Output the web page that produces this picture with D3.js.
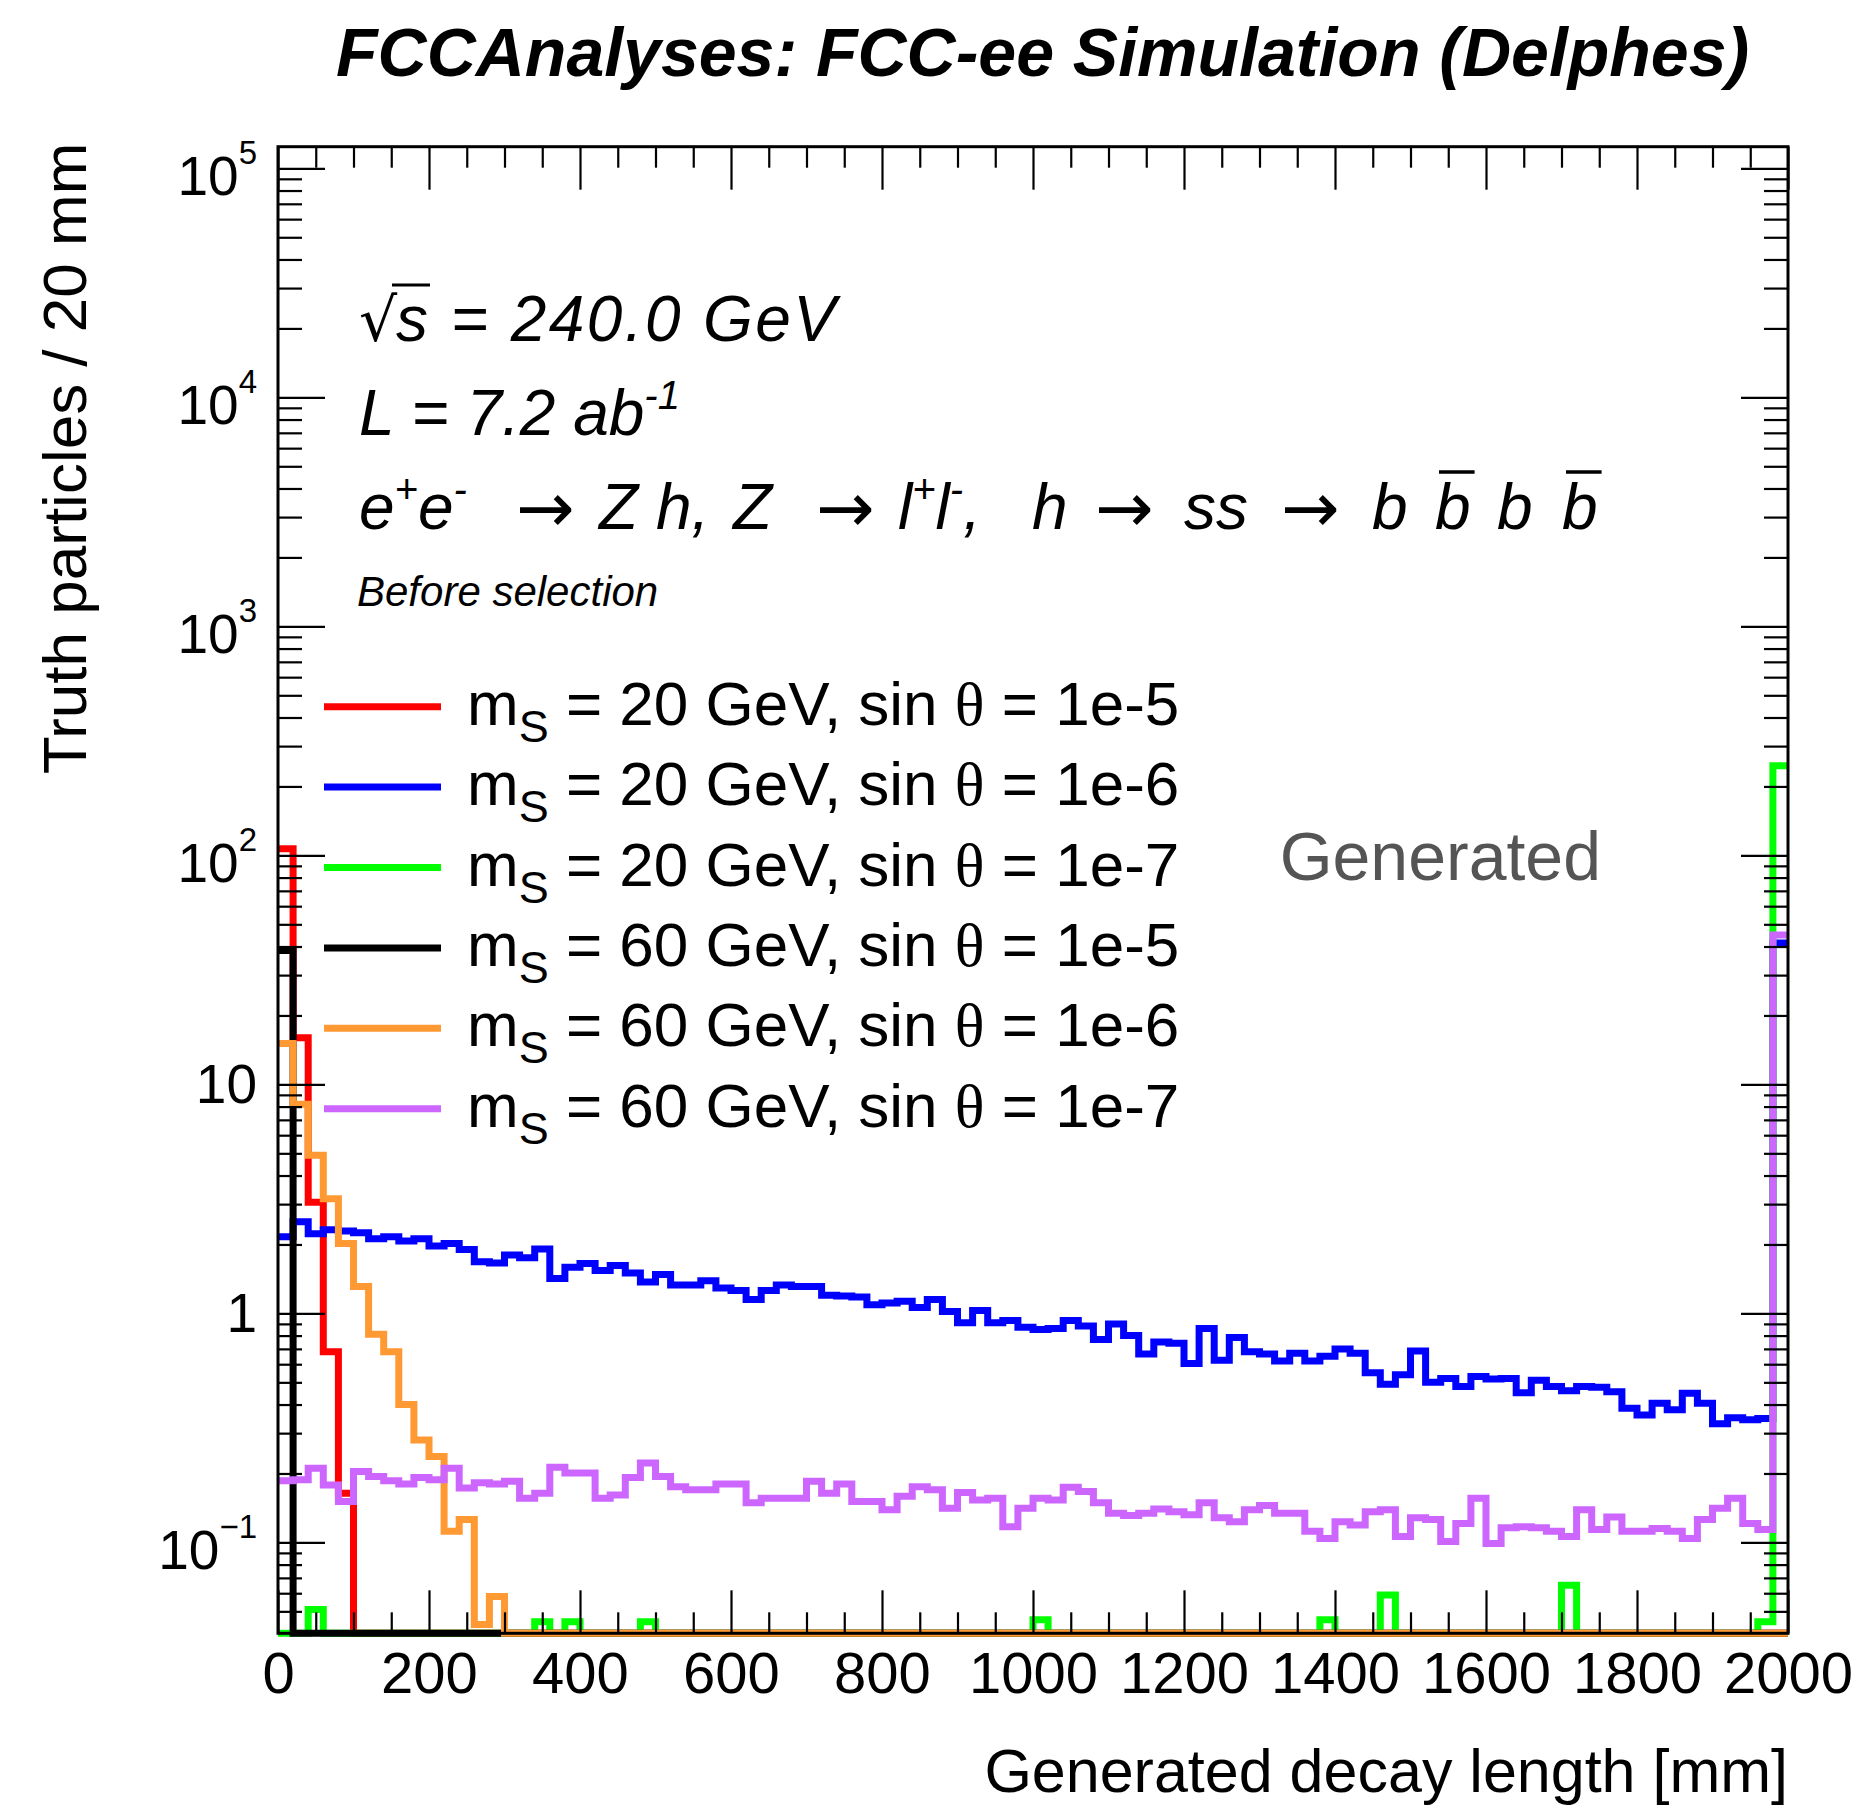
<!DOCTYPE html>
<html>
<head>
<meta charset="utf-8">
<script src="https://cdn.jsdelivr.net/npm/d3@7"></script>
<style>
  body { margin: 0; background: #fff; }
  svg text { font-family: "Liberation Sans", Arial, Helvetica, sans-serif; }
</style>
</head>
<body>
<div id="chart"></div>
<script>
// 100 bins of 20 mm, 0 - 2000 mm (last bin holds the overflow)
const binEdges = d3.range(0, 2000, 20);

// m_S = 20 GeV, sin theta = 1e-5
const red = [
  107, 16.0, 3.06, 0.68, 0.164, 0, 0, 0, 0, 0,
  0, 0, 0, 0, 0, 0, 0, 0, 0, 0,
  0, 0, 0, 0, 0, 0, 0, 0, 0, 0,
  0, 0, 0, 0, 0, 0, 0, 0, 0, 0,
  0, 0, 0, 0, 0, 0, 0, 0, 0, 0,
  0, 0, 0, 0, 0, 0, 0, 0, 0, 0,
  0, 0, 0, 0, 0, 0, 0, 0, 0, 0,
  0, 0, 0, 0, 0, 0, 0, 0, 0, 0,
  0, 0, 0, 0, 0, 0, 0, 0, 0, 0,
  0, 0, 0, 0, 0, 0, 0, 0, 0, 0
];
// m_S = 20 GeV, sin theta = 1e-6
const blue = [
  2.16, 2.51, 2.23, 2.32, 2.29, 2.25, 2.12, 2.16, 2.07, 2.12,
  1.97, 2.02, 1.90, 1.68, 1.66, 1.80, 1.75, 1.91, 1.42, 1.59,
  1.65, 1.54, 1.62, 1.50, 1.37, 1.48, 1.33, 1.33, 1.39, 1.29,
  1.26, 1.15, 1.26, 1.33, 1.31, 1.31, 1.20, 1.19, 1.18, 1.09,
  1.11, 1.13, 1.06, 1.15, 1.02, 0.91, 1.03, 0.91, 0.93, 0.87,
  0.85, 0.86, 0.93, 0.88, 0.77, 0.90, 0.80, 0.665, 0.75, 0.74,
  0.605, 0.86, 0.625, 0.785, 0.68, 0.665, 0.62, 0.67, 0.62, 0.65,
  0.70, 0.67, 0.55, 0.49, 0.54, 0.685, 0.50, 0.52, 0.48, 0.53,
  0.517, 0.52, 0.45, 0.51, 0.48, 0.46, 0.48, 0.476, 0.455, 0.385,
  0.36, 0.405, 0.38, 0.448, 0.405, 0.33, 0.35, 0.343, 0.348, 41.4
];
// m_S = 20 GeV, sin theta = 1e-7
const green = [
  0, 0, 0.051, 0, 0, 0, 0, 0, 0, 0,
  0, 0, 0, 0, 0, 0, 0, 0.045, 0, 0.045,
  0, 0, 0, 0, 0.045, 0, 0, 0, 0, 0,
  0, 0, 0, 0, 0, 0, 0, 0, 0, 0,
  0, 0, 0, 0, 0, 0, 0, 0, 0, 0,
  0.046, 0, 0, 0, 0, 0, 0, 0, 0, 0,
  0, 0, 0, 0, 0, 0, 0, 0, 0, 0.046,
  0, 0, 0, 0.059, 0, 0, 0, 0, 0, 0,
  0, 0, 0, 0, 0, 0.065, 0, 0, 0, 0,
  0, 0, 0, 0, 0, 0, 0, 0, 0.045, 246
];
// m_S = 60 GeV, sin theta = 1e-5
const black = [
  38.4, 0, 0, 0, 0, 0, 0, 0, 0, 0,
  0, 0, 0, 0, 0, 0, 0, 0, 0, 0,
  0, 0, 0, 0, 0, 0, 0, 0, 0, 0,
  0, 0, 0, 0, 0, 0, 0, 0, 0, 0,
  0, 0, 0, 0, 0, 0, 0, 0, 0, 0,
  0, 0, 0, 0, 0, 0, 0, 0, 0, 0,
  0, 0, 0, 0, 0, 0, 0, 0, 0, 0,
  0, 0, 0, 0, 0, 0, 0, 0, 0, 0,
  0, 0, 0, 0, 0, 0, 0, 0, 0, 0,
  0, 0, 0, 0, 0, 0, 0, 0, 0, 0
];
// m_S = 60 GeV, sin theta = 1e-6
const orange = [
  15.1, 8.2, 4.9, 3.17, 2.02, 1.31, 0.81, 0.68, 0.40, 0.28,
  0.237, 0.112, 0.126, 0.0438, 0.058, 0, 0, 0, 0, 0,
  0, 0, 0, 0, 0, 0, 0, 0, 0, 0,
  0, 0, 0, 0, 0, 0, 0, 0, 0, 0,
  0, 0, 0, 0, 0, 0, 0, 0, 0, 0,
  0, 0, 0, 0, 0, 0, 0, 0, 0, 0,
  0, 0, 0, 0, 0, 0, 0, 0, 0, 0,
  0, 0, 0, 0, 0, 0, 0, 0, 0, 0,
  0, 0, 0, 0, 0, 0, 0, 0, 0, 0,
  0, 0, 0, 0, 0, 0, 0, 0, 0, 0
];
// m_S = 60 GeV, sin theta = 1e-7
const violet = [
  0.186, 0.188, 0.211, 0.178, 0.151, 0.204, 0.194, 0.186, 0.180, 0.192,
  0.188, 0.211, 0.173, 0.182, 0.180, 0.185, 0.156, 0.164, 0.213, 0.201,
  0.201, 0.156, 0.161, 0.192, 0.222, 0.194, 0.175, 0.170, 0.170, 0.180,
  0.180, 0.149, 0.156, 0.156, 0.156, 0.185, 0.164, 0.180, 0.151, 0.151,
  0.139, 0.159, 0.175, 0.170, 0.141, 0.165, 0.153, 0.156, 0.117, 0.141,
  0.156, 0.153, 0.174, 0.167, 0.149, 0.134, 0.131, 0.134, 0.140, 0.136,
  0.132, 0.149, 0.128, 0.123, 0.139, 0.145, 0.134, 0.134, 0.112, 0.104,
  0.123, 0.119, 0.136, 0.139, 0.106, 0.128, 0.126, 0.101, 0.121, 0.156,
  0.099, 0.116, 0.117, 0.116, 0.112, 0.106, 0.139, 0.114, 0.129, 0.112,
  0.112, 0.115, 0.112, 0.104, 0.126, 0.141, 0.156, 0.121, 0.114, 44.9
];

const seriesMass = [20, 20, 20, 60, 60, 60];
const seriesSin = ['1e-5', '1e-6', '1e-7', '1e-5', '1e-6', '1e-7'];
const seriesColor = ['#ff0000', '#0000ff', '#00ff00', '#000000', '#ff9933', '#cc66ff'];
const seriesValues = [red, blue, green, black, orange, violet];

const xMajorTicks = [0, 200, 400, 600, 800, 1000, 1200, 1400, 1600, 1800, 2000];
const yMajorTicks = [0.1, 1, 10, 100, 1000, 10000, 100000];
const yTickBase = ['10', '1', '10', '10', '10', '10', '10'];
const yTickExp = ['\u22121', '', '', '2', '3', '4', '5'];

const width = 1860;
const height = 1809;
const margin = { top: 146.7, right: 72, bottom: 175.7, left: 278 };
const xMin = 0, xMax = 2000;
const yMin = 0.0401, yMax = 1.243e5;

const svg = d3.select('#chart')
  .append('svg')
  .attr('width', width)
  .attr('height', height);

svg.append('rect').attr('width', width).attr('height', height).attr('fill', '#fff');

const x = d3.scaleLinear()
  .domain([xMin, xMax])
  .range([margin.left, width - margin.right]);
const y = d3.scaleLog()
  .domain([yMin, yMax])
  .range([height - margin.bottom, margin.top]);

// step histogram, empty bins sit on the lower frame like in ROOT
const histLine = d3.line()
  .x(d => x(d.edge))
  .y(d => y(Math.max(d.value, yMin)))
  .curve(d3.curveStepAfter);

const hists = svg.append('g').classed('hists', true);
seriesValues.forEach((vals, k) => {
  const pts = vals.map((v, i) => ({ edge: binEdges[i], value: v }));
  pts.push({ edge: xMax, value: vals[vals.length - 1] });
  hists.append('path')
    .attr('d', histLine(pts))
    .attr('fill', 'none')
    .attr('stroke', seriesColor[k])
    .attr('stroke-width', 7)
    .attr('stroke-linejoin', 'miter');
});

// axes: ticks on all four sides, pointing inwards
const yBottom = height - margin.bottom;
const xRight = width - margin.right;
const xMinor = d3.range(0, 2001, 50).filter(v => v % 200 !== 0);
const yMinor = [];
for (let e = -2; e <= 5; e++) {
  for (let m = 2; m <= 9; m++) {
    const v = m * Math.pow(10, e);
    if (v >= yMin && v <= yMax) yMinor.push(v);
  }
}

function styleAxis(g) {
  g.select('.domain').remove();
  g.selectAll('.tick line').attr('stroke', '#000').attr('stroke-width', 2.2);
}

svg.append('g')
  .classed('x axis', true)
  .attr('transform', `translate(0,${yBottom})`)
  .call(d3.axisBottom(x).tickValues(xMajorTicks).tickSize(-43).tickPadding(19).tickFormat(d3.format('d')))
  .call(styleAxis)
  .call(g => g.selectAll('text')
    .attr('fill', '#000')
    .style('font-size', '58px')
    .style('font-family', '"Liberation Sans", Arial, sans-serif'));

svg.append('g')
  .attr('transform', `translate(0,${yBottom})`)
  .call(d3.axisBottom(x).tickValues(xMinor).tickSize(-21).tickFormat(''))
  .call(styleAxis);

svg.append('g')
  .attr('transform', `translate(0,${margin.top})`)
  .call(d3.axisTop(x).tickValues(xMajorTicks).tickSize(-43).tickFormat(''))
  .call(styleAxis);

svg.append('g')
  .attr('transform', `translate(0,${margin.top})`)
  .call(d3.axisTop(x).tickValues(xMinor).tickSize(-21).tickFormat(''))
  .call(styleAxis);

svg.append('g')
  .classed('y axis', true)
  .attr('transform', `translate(${margin.left},0)`)
  .call(d3.axisLeft(y).tickValues(yMajorTicks).tickSize(-47).tickFormat(''))
  .call(styleAxis);

svg.append('g')
  .attr('transform', `translate(${margin.left},0)`)
  .call(d3.axisLeft(y).tickValues(yMinor).tickSize(-24).tickFormat(''))
  .call(styleAxis);

svg.append('g')
  .attr('transform', `translate(${xRight},0)`)
  .call(d3.axisRight(y).tickValues(yMajorTicks).tickSize(-47).tickFormat(''))
  .call(styleAxis);

svg.append('g')
  .attr('transform', `translate(${xRight},0)`)
  .call(d3.axisRight(y).tickValues(yMinor).tickSize(-24).tickFormat(''))
  .call(styleAxis);

// y tick labels with exponents
yMajorTicks.forEach((v, i) => {
  const hasExp = yTickExp[i] !== '';
  const t = svg.append('text')
    .attr('x', 257)
    .attr('y', y(v) + (hasExp ? 27 : 19))
    .attr('text-anchor', 'end')
    .attr('fill', '#000')
    .style('font-size', '55px');
  t.append('tspan').text(yTickBase[i]);
  if (hasExp) {
    t.append('tspan').attr('dy', -31).style('font-size', '33px').text(yTickExp[i]);
  }
});

// frame
svg.append('rect')
  .attr('x', margin.left)
  .attr('y', margin.top)
  .attr('width', xRight - margin.left)
  .attr('height', yBottom - margin.top)
  .attr('fill', 'none')
  .attr('stroke', '#000')
  .attr('stroke-width', 3);

// axis titles
svg.append('text')
  .attr('x', xRight)
  .attr('y', 1792)
  .attr('text-anchor', 'end')
  .style('font-size', '61px')
  .text('Generated decay length [mm]');

svg.append('text')
  .attr('transform', `translate(86,${margin.top - 4}) rotate(-90)`)
  .attr('text-anchor', 'end')
  .style('font-size', '62px')
  .text('Truth particles / 20 mm');

// title
svg.append('text')
  .attr('x', 336)
  .attr('y', 76)
  .style('font-size', '68px')
  .style('font-weight', 'bold')
  .style('font-style', 'italic')
  .text('FCCAnalyses: FCC-ee Simulation (Delphes)');

// info text block
const info = svg.append('g').style('font-style', 'italic').style('font-size', '64px');

const rad = info.append('text')
  .attr('x', 359).attr('y', 341)
  .style('font-style', 'normal')
  .style('font-family', '"DejaVu Sans", sans-serif')
  .style('font-size', '60px')
  .text('\u221A');
const radBox = rad.node().getBBox();
const sStart = radBox.x + radBox.width - 2;
const sqrtText = info.append('text')
  .attr('x', sStart).attr('y', 341)
  .attr('textLength', 836 - sStart)
  .attr('lengthAdjust', 'spacing')
  .text('s = 240.0 GeV');
const sW = sqrtText.node().getEndPositionOfChar(0).x - sStart;
info.append('line')
  .attr('x1', radBox.x + radBox.width - 6).attr('x2', sStart + sW + 2)
  .attr('y1', 285).attr('y2', 285)
  .attr('stroke', '#000').attr('stroke-width', 3);

// rich text helper: pieces of [text, 'sup' | null]
function rich(xp, yp, pieces) {
  const t = info.append('text').attr('x', xp).attr('y', yp);
  let raised = false;
  pieces.forEach(([s, kind]) => {
    const sp = t.append('tspan').text(s);
    if (kind === 'sup' && !raised) { sp.attr('dy', -26); raised = true; }
    else if (kind !== 'sup' && raised) { sp.attr('dy', 26); raised = false; }
    if (kind === 'sup') sp.style('font-size', '40px');
  });
  return t;
}

rich(359, 435, [['L = 7.2 ab', null], ['-1', 'sup']]);

// process line, pieces placed like the ROOT TLatex output
const eqY = 529;
function arrow(xp) {
  info.append('text').attr('x', xp).attr('y', eqY + 3)
    .style('font-style', 'normal').style('font-size', '70px')
    .style('font-family', '"DejaVu Sans", sans-serif')
    .text('\u2192');
}
rich(359, eqY, [['e', null], ['+', 'sup'], ['e', null], ['-', 'sup']]);
arrow(516);
info.append('text').attr('x', 599).attr('y', eqY).text('Z h,');
info.append('text').attr('x', 733).attr('y', eqY).text('Z');
arrow(816);
rich(898, eqY, [['l', null], ['+', 'sup'], ['l', null], ['-', 'sup'], [',', null]]);
info.append('text').attr('x', 1032).attr('y', eqY).text('h');
arrow(1095);
info.append('text').attr('x', 1184).attr('y', eqY).text('ss');
arrow(1281);
[1372, 1435, 1497, 1562].forEach((xp, i) => {
  const b = info.append('text').attr('x', xp).attr('y', eqY).text('b');
  if (i % 2 === 1) {
    const bb = b.node().getBBox();
    info.append('line')
      .attr('x1', bb.x + 4).attr('x2', bb.x + bb.width + 4)
      .attr('y1', eqY - 57).attr('y2', eqY - 57)
      .attr('stroke', '#000').attr('stroke-width', 3.5);
  }
});

svg.append('text')
  .attr('x', 357).attr('y', 606)
  .style('font-style', 'italic')
  .style('font-size', '42px')
  .text('Before selection');

svg.append('text')
  .attr('x', 1601).attr('y', 880)
  .attr('text-anchor', 'end')
  .attr('fill', '#555555')
  .style('font-size', '68px')
  .text('Generated');

// legend
const legend = svg.append('g').classed('legend', true);
seriesColor.forEach((c, i) => {
  const ly = 706.7 + i * 80.4;
  legend.append('line')
    .attr('x1', 324).attr('x2', 441)
    .attr('y1', ly).attr('y2', ly)
    .attr('stroke', c).attr('stroke-width', 7);
  const lt = legend.append('text')
    .attr('x', 467).attr('y', ly + 18)
    .style('font-size', '62px');
  lt.append('tspan').text('m');
  lt.append('tspan').attr('dy', 17).style('font-size', '45px').text('S');
  lt.append('tspan').attr('dy', -17).text(` = ${seriesMass[i]} GeV, sin `);
  lt.append('tspan').style('font-family', '"Liberation Serif", "DejaVu Serif", serif').text('\u03B8');
  lt.append('tspan').text(` = ${seriesSin[i]}`);
});
</script>
</body>
</html>
